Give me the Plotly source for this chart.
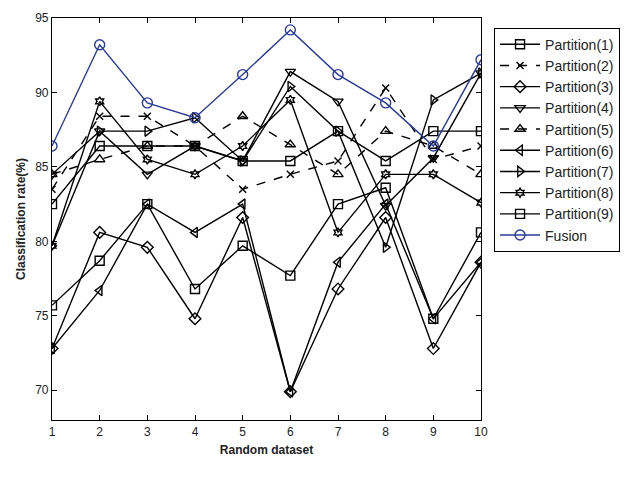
import plotly.graph_objects as go

datasets = [1, 2, 3, 4, 5, 6, 7, 8, 9, 10]

p1 = [82.5, 86.4, 86.4, 86.4, 85.4, 85.4, 87.4, 85.4, 87.4, 87.4]
p2 = [83.5, 88.4, 88.4, 86.4, 83.5, 84.5, 85.4, 90.3, 85.5, 86.4]
p3 = [72.8, 80.6, 79.6, 74.8, 81.6, 69.9, 76.8, 81.6, 72.8, 78.6]
p4 = [84.5, 87.4, 84.5, 86.4, 85.4, 91.4, 89.4, 82.4, 85.6, 91.3]
p5 = [84.5, 85.5, 86.4, 86.4, 88.4, 86.5, 84.5, 87.4, 86.4, 84.5]
p6 = [72.8, 76.7, 82.5, 80.6, 82.5, 69.9, 78.6, 82.5, 74.8, 78.6]
p7 = [79.7, 87.4, 87.4, 88.3, 85.4, 90.4, 87.4, 79.6, 89.5, 91.3]
p8 = [79.7, 89.4, 85.5, 84.5, 86.4, 89.5, 80.6, 84.5, 84.5, 82.6]
p9 = [75.7, 78.7, 82.5, 76.8, 79.7, 77.7, 82.5, 83.6, 74.8, 80.6]
fusion = [86.4, 93.2, 89.3, 88.3, 91.2, 94.2, 91.2, 89.3, 86.4, 92.2]

names = ["Partition(1)", "Partition(2)", "Partition(3)", "Partition(4)", "Partition(5)",
         "Partition(6)", "Partition(7)", "Partition(8)", "Partition(9)", "Fusion"]
series = [p1, p2, p3, p4, p5, p6, p7, p8, p9, fusion]
symbols = ["square-open", "x-thin-open", "diamond-open", "triangle-down-open", "triangle-up-open",
           "triangle-left-open", "triangle-right-open", "hexagram-open", "square-open", "circle-open"]
dashes = ["solid", "dash", "solid", "solid", "dash", "solid", "solid", "solid", "solid", "solid"]
colors = ["black"] * 9 + ["#2a3a9c"]
sizes = [9, 7, 9, 9, 9, 9, 9, 7, 9, 10]

fig = go.Figure()
for i, (nm, ys) in enumerate(zip(names, series)):
    fig.add_trace(go.Scatter(
        x=datasets, y=ys, name=nm, mode="lines+markers",
        line=dict(color=colors[i], width=1.4, dash=dashes[i]),
        marker=dict(symbol=symbols[i], size=sizes[i], color=colors[i],
                    line=dict(color=colors[i], width=1.4)),
        legendgroup=str(i),
    ))

axis_common = dict(showline=True, linecolor="black", linewidth=1.2, mirror="ticks",
                   ticks="inside", ticklen=5, tickcolor="black", showgrid=False,
                   zeroline=False, tickfont=dict(family="Liberation Sans, Arial", size=12, color="#222222"))

fig.update_layout(
    width=631, height=486,
    margin=dict(l=52, r=149, t=18, b=66),
    paper_bgcolor="white", plot_bgcolor="white",
    showlegend=True,
    font=dict(family="Liberation Sans, Arial", color="#222222"),
    legend=dict(x=1.028, y=0.976, xanchor="left", yanchor="top",
                bordercolor="black", borderwidth=1, bgcolor="white",
                font=dict(family="Liberation Sans, Arial", size=14, color="#222222"),
                tracegroupgap=0, itemwidth=40),
    xaxis=dict(range=[1, 10], tickvals=datasets,
               title=dict(text="<b>Random dataset</b>", standoff=8,
                          font=dict(family="Liberation Sans, Arial", size=12, color="#222222")),
               **axis_common),
    yaxis=dict(range=[68, 95], tickvals=[70, 75, 80, 85, 90, 95],
               title=dict(text="<b>Classification rate(%)</b>", standoff=6,
                          font=dict(family="Liberation Sans, Arial", size=12, color="#222222")),
               **axis_common),
)

fig.write_html("out.html")
